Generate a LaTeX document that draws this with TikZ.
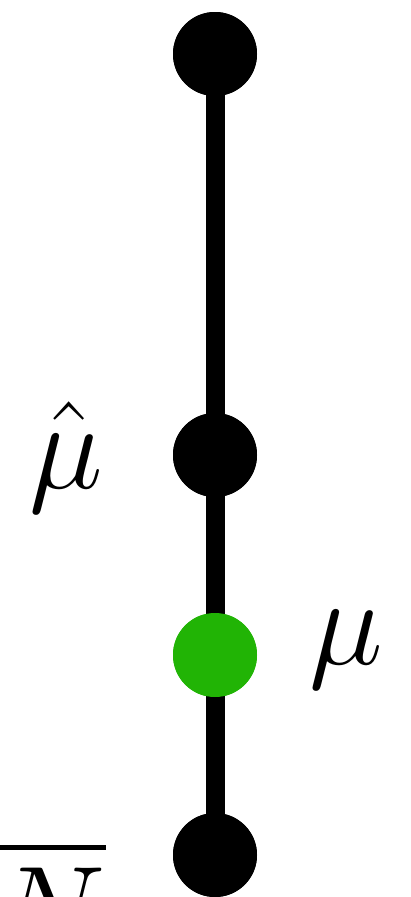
\documentclass[tikz,border=0pt]{standalone}
\usepackage{fix-cm}
\definecolor{dotgreen}{RGB}{33,180,5}
\tikzset{
  dot/.style={circle, fill=black, minimum size=84pt, inner sep=0pt},
  gdot/.style={dot, fill=dotgreen},
  stem/.style={line width=19pt},
  lbl/.style={inner sep=0pt, font=\fontsize{125}{150}\selectfont}
}
\begin{document}
\begin{tikzpicture}[x=1pt,y=-1pt]
\useasboundingbox (0,0) rectangle (410,897);
\clip (0,0) rectangle (410,897);
\node[dot] (a) at (215,54) {};
\node[dot] (b) at (215,455) {};
\node[gdot] (c) at (215,655) {};
\node[dot] (d) at (215,855) {};
\draw[stem] (a.center) -- (b.center);
\draw[stem] (b.center) -- (c.center);
\draw[stem] (c.center) -- (d.center);
\node[dot] at (a) {};
\node[dot] at (b) {};
\node[gdot] at (c) {};
\node[dot] at (d) {};
\node[lbl] (muhat) at (66,457) {$\hat{\mu}$};
\node[lbl] (mu) at (346,650) {$\mu$};
\node[lbl, anchor=north east] (sq) at (106,840) {$\sqrt{N}$};
\end{tikzpicture}
\end{document}
